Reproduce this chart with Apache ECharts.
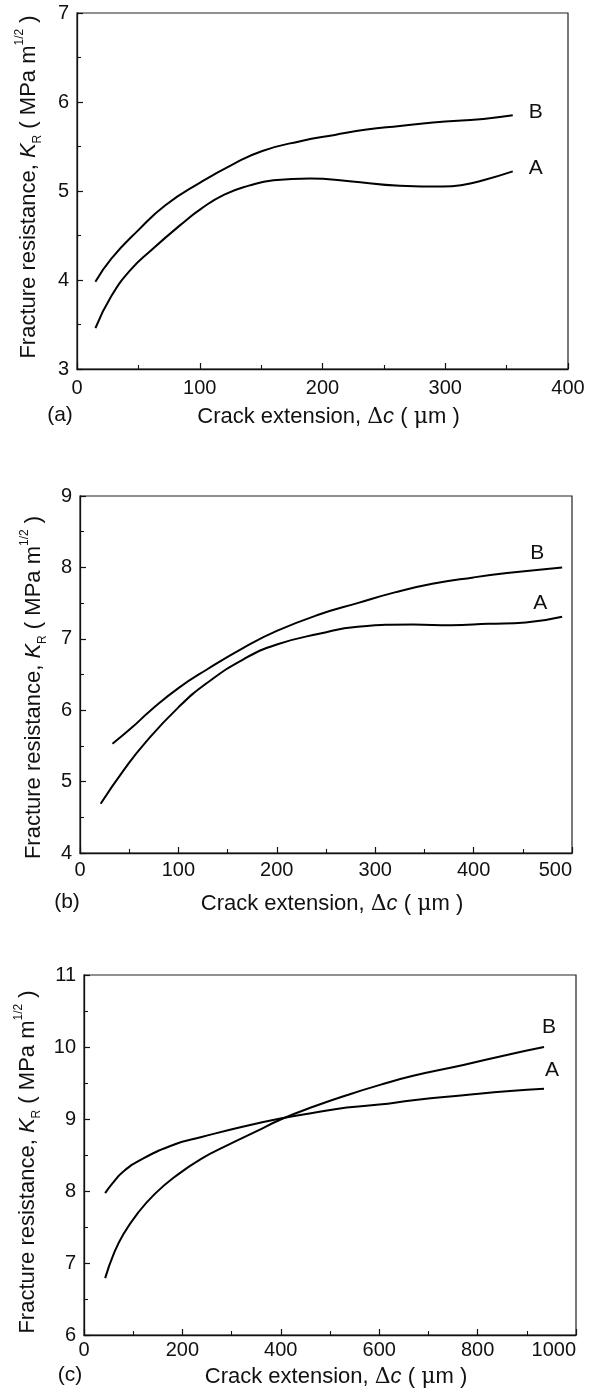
<!DOCTYPE html>
<html><head><meta charset="utf-8">
<script src="https://cdn.jsdelivr.net/npm/echarts@6/dist/echarts.min.js"></script>
<style>html,body{margin:0;padding:0;background:#fff}#c{width:589px;height:1396px}</style>
</head><body><div id="c"></div>
<script>
// ---------- data ----------
// Panel (a)
const a_B_x = [15, 28, 50, 72, 101, 127, 151, 182, 210, 236, 263, 290, 331, 355];
const a_B_y = [3.98, 4.24, 4.56, 4.84, 5.10, 5.30, 5.45, 5.56, 5.63, 5.69, 5.73, 5.77, 5.81, 5.85];
const a_A_x = [15, 28, 44, 60, 87, 101, 120, 140, 160, 190, 222, 263, 298, 315, 331, 355];
const a_A_y = [3.46, 3.82, 4.12, 4.33, 4.65, 4.80, 4.96, 5.06, 5.12, 5.14, 5.11, 5.06, 5.05, 5.07, 5.12, 5.22];
// Panel (b)
const b_B_x = [33, 53, 72, 100, 129, 167, 200, 243, 282, 320, 358, 400, 434, 490];
const b_B_y = [5.53, 5.76, 6.00, 6.31, 6.57, 6.88, 7.11, 7.34, 7.50, 7.65, 7.77, 7.86, 7.92, 8.00];
const b_A_x = [21, 45, 66, 100, 129, 167, 200, 243, 282, 339, 377, 415, 453, 490];
const b_A_y = [4.69, 5.17, 5.54, 6.04, 6.38, 6.72, 6.92, 7.07, 7.17, 7.20, 7.19, 7.21, 7.23, 7.31];
// Panel (c)
const c_B_x = [43, 60, 80, 110, 144, 185, 239, 293, 348, 402, 470, 534, 600, 669, 771, 866, 935];
const c_B_y = [6.79, 7.12, 7.40, 7.70, 7.96, 8.20, 8.45, 8.64, 8.82, 9.00, 9.18, 9.33, 9.47, 9.60, 9.75, 9.90, 10.00];
const c_A_x = [43, 57, 80, 117, 185, 239, 320, 402, 470, 534, 600, 669, 771, 866, 935];
const c_A_y = [7.97, 8.10, 8.27, 8.44, 8.65, 8.75, 8.89, 9.01, 9.09, 9.16, 9.20, 9.26, 9.33, 9.39, 9.42];

// axis ranges / ticks
const xRanges = [[0, 400, 100], [0, 500, 100], [0, 1000, 200]];
const yRanges = [[3, 7, 1], [4, 9, 1], [6, 11, 1]];
const panelTags = ['(a)', '(b)', '(c)'];
const curveNames = ['A', 'B'];

const xTitle = '{n|Crack extension, }{g|\u0394}{i|c}{n| ( }{g|\u03BC}{n|m )}';
const yTitle = '{n|Fracture resistance, }{i|K}{sub|R}{n| ( MPa m}{sup|1/2}{n| )}';

// ---------- styling ----------
const FONT = '"Liberation Sans", Arial, Helvetica, sans-serif';
const INK = '#111';
const richT = {
  n: {fontSize: 22, lineHeight: 30, fontFamily: FONT, color: INK},
  i: {fontSize: 22, lineHeight: 30, fontFamily: FONT, color: INK, fontStyle: 'italic'},
  g: {fontSize: 22, lineHeight: 30, fontFamily: '"DejaVu Serif", serif', color: INK},
  sub: {fontSize: 12, lineHeight: 12, verticalAlign: 'bottom', fontFamily: FONT, color: INK},
  sup: {fontSize: 12, lineHeight: 12, verticalAlign: 'top', fontFamily: FONT, color: INK}
};

const grids = [
  {left: 77, top: 13, width: 491, height: 356},
  {left: 80, top: 496, width: 492, height: 357},
  {left: 84, top: 975, width: 492, height: 360}
].map(g => Object.assign(g, {show: true, borderColor: '#222', borderWidth: 1.2,
  backgroundColor: 'transparent', containLabel: false, outerBoundsMode: 'none'}));

const xGap = [33, 36, 27];
const xMargin = [9, 7, 5];
const yGap = [33, 31, 40];
const yPad = [[0, 0, 0, 8], [0, 26, 0, 0], [0, 14, 0, 0]];

const xAxes = xRanges.map((r, i) => ({
  type: 'value', gridIndex: i, min: r[0], max: r[1], interval: r[2],
  name: xTitle, nameLocation: 'middle', nameGap: xGap[i],
  nameTextStyle: {rich: richT, padding: [0, 0, 0, 12]},
  axisLine: {show: true, onZero: false, lineStyle: {color: '#111', width: 1.3}},
  axisTick: {show: true, inside: true, length: 6, lineStyle: {color: '#111', width: 1.2}},
  minorTick: {show: true, splitNumber: 2, length: 4, lineStyle: {color: '#111', width: 1.1}},
  splitLine: {show: false},
  axisLabel: {color: INK, fontSize: 20, fontFamily: FONT, margin: xMargin[i],
    formatter: v => String(v), alignMaxLabel: i === 0 ? 'center' : 'right'}
}));

const yAxes = yRanges.map((r, i) => ({
  type: 'value', gridIndex: i, min: r[0], max: r[1], interval: r[2],
  name: yTitle, nameLocation: 'middle', nameGap: yGap[i], nameRotate: 90,
  nameTextStyle: {rich: richT, padding: yPad[i]},
  axisLine: {show: true, onZero: false, lineStyle: {color: '#111', width: 1.3}},
  axisTick: {show: true, inside: true, length: 6, lineStyle: {color: '#111', width: 1.2}},
  minorTick: {show: true, splitNumber: 2, length: 4, lineStyle: {color: '#111', width: 1.1}},
  splitLine: {show: false},
  axisLabel: {color: INK, fontSize: 20, fontFamily: FONT, margin: 8, formatter: v => String(v)}
}));

const zip = (xs, ys) => xs.map((x, k) => [x, ys[k]]);
const panelData = [
  {A: zip(a_A_x, a_A_y), B: zip(a_B_x, a_B_y)},
  {A: zip(b_A_x, b_A_y), B: zip(b_B_x, b_B_y)},
  {A: zip(c_A_x, c_A_y), B: zip(c_B_x, c_B_y)}
];
const endLabelPos = [
  {A: {distance: 16, offset: [0, -3]}, B: {distance: 16, offset: [0, -3]}},
  {A: {distance: 5, offset: [-34, -13]}, B: {distance: 5, offset: [-37, -14]}},
  {A: {distance: 5, offset: [-4, -19]}, B: {distance: 5, offset: [-7, -20]}}
];

const series = [];
panelData.forEach((p, i) => {
  curveNames.forEach(nm => {
    series.push({
      type: 'line', name: panelTags[i] + nm, xAxisIndex: i, yAxisIndex: i,
      data: p[nm], smooth: 0.5, showSymbol: false, symbol: 'none',
      lineStyle: {color: '#000', width: 2},
      endLabel: Object.assign({show: true, formatter: nm, color: INK, fontSize: 21,
        fontFamily: FONT}, endLabelPos[i][nm]),
      silent: true
    });
  });
});

const tagPos = [[60, 415], [67, 902], [70, 1375]];
const graphic = panelTags.map((t, i) => ({
  type: 'text', x: tagPos[i][0], y: tagPos[i][1],
  style: {text: t, fill: INK, font: '21px ' + FONT, align: 'center', verticalAlign: 'middle'}
}));

const chart = echarts.init(document.getElementById('c'), null, {renderer: 'canvas'});
chart.setOption({
  animation: false,
  backgroundColor: '#fff',
  grid: grids, xAxis: xAxes, yAxis: yAxes, series: series, graphic: graphic
});
</script>
</body></html>
